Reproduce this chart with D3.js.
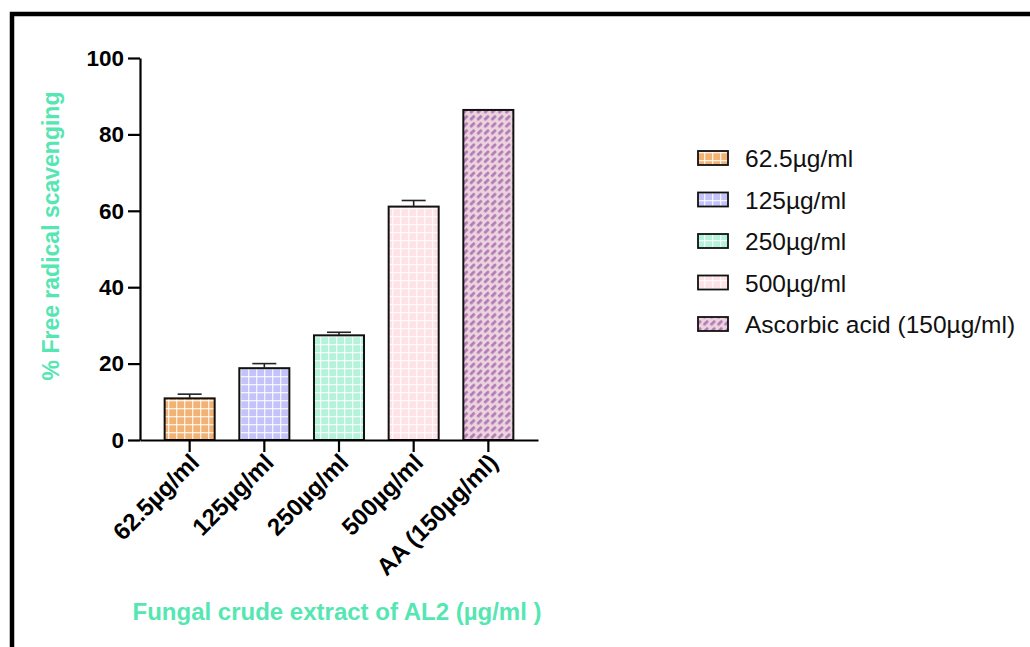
<!DOCTYPE html>
<html><head><meta charset="utf-8">
<script src="https://cdn.jsdelivr.net/npm/d3@7"></script>
<style>body{margin:0;background:#fff}svg{display:block}</style>
</head><body>
<script>
const categories = ["62.5µg/ml","125µg/ml","250µg/ml","500µg/ml","AA (150µg/ml)"];
const legendLabels = ["62.5µg/ml","125µg/ml","250µg/ml","500µg/ml","Ascorbic acid (150µg/ml)"];
const values = [10.9, 18.8, 27.4, 61.1, 86.4];
const errors = [1.1, 1.2, 0.8, 1.6, 0];
const yTicks = [0,20,40,60,80,100];
const fills = ["#F2B274","#C3C3FA","#B4F3DA","#FDE2E7","#EBD3DF"];

const W=1030,H=647;
const svg=d3.select("body").append("svg").attr("width",W).attr("height",H);
const defs=svg.append("defs");
const green="#55E6B2";
const font="'Liberation Sans', Arial, sans-serif";

fills.forEach((c,i)=>{
  const s = i<4 ? 8 : 10;
  const p=defs.append("pattern").attr("id","p"+i).attr("patternUnits","userSpaceOnUse")
    .attr("width",s).attr("height",s);
  p.append("rect").attr("width",s).attr("height",s).attr("fill",c);
  if(i<4){
    p.append("rect").attr("x",0).attr("y",0).attr("width",8).attr("height",1.3).attr("fill","#fff").attr("opacity",0.8);
    p.append("rect").attr("x",0).attr("y",0).attr("width",1.3).attr("height",8).attr("fill","#fff").attr("opacity",0.8);
  } else {
    p.attr("patternTransform","rotate(45)");
    [[1,1],[6,6],[6,-4]].forEach(([xx,yy])=>{
      p.append("rect").attr("x",xx).attr("y",yy).attr("width",2.8).attr("height",6.5).attr("rx",1.3).attr("fill","#B47CB4");
    });
  }
});

svg.append("rect").attr("x",12).attr("y",14).attr("width",1100).attr("height",800)
  .attr("fill","none").attr("stroke","#000").attr("stroke-width",4.5);

const x=d3.scaleBand().domain(categories).range([140,538]).paddingInner(0.33).paddingOuter(0.33);
const y=d3.scaleLinear().domain([0,100]).range([440,58]);

const g=svg.append("g");
g.selectAll("rect.bar").data(values).join("rect")
  .attr("x",(d,i)=>x(categories[i])).attr("y",d=>y(d))
  .attr("width",x.bandwidth()).attr("height",d=>y(0)-y(d))
  .attr("fill",(d,i)=>`url(#p${i})`).attr("stroke","#111").attr("stroke-width",2);

values.forEach((v,i)=>{
  if(!errors[i]) return;
  const cx=x(categories[i])+x.bandwidth()/2;
  g.append("line").attr("x1",cx).attr("x2",cx).attr("y1",y(v)).attr("y2",y(v+errors[i])).attr("stroke","#222").attr("stroke-width",1.6);
  g.append("line").attr("x1",cx-12).attr("x2",cx+12).attr("y1",y(v+errors[i])).attr("y2",y(v+errors[i])).attr("stroke","#222").attr("stroke-width",1.6);
});

const ya=svg.append("g").attr("transform","translate(140,0)")
  .call(d3.axisLeft(y).tickValues(yTicks).tickSize(12).tickPadding(4).tickSizeOuter(0));
ya.select(".domain").attr("stroke","#000").attr("stroke-width",2.2);
ya.selectAll(".tick line").attr("stroke","#000").attr("stroke-width",2.2);
ya.selectAll("text").attr("font-family",font).attr("font-weight","bold").attr("font-size",22.5).attr("fill","#000");

const xa=svg.append("g").attr("transform","translate(0,440)")
  .call(d3.axisBottom(x).tickSize(12).tickSizeOuter(0).tickPadding(0));
xa.select(".domain").attr("stroke","#000").attr("stroke-width",2.2);
xa.selectAll(".tick line").attr("stroke","#000").attr("stroke-width",2.2);
xa.selectAll("text").attr("font-family",font).attr("font-weight","bold").attr("font-size",24).attr("fill","#000")
  .attr("text-anchor","end").attr("dy",null).attr("y",0)
  .attr("transform","translate(11,24) rotate(-45)");

svg.append("text").attr("transform","translate(59,236) rotate(-90)").attr("text-anchor","middle")
  .attr("font-family",font).attr("font-weight","bold").attr("font-size",23).attr("fill",green)
  .text("% Free radical scavenging");
svg.append("text").attr("x",337).attr("y",620).attr("text-anchor","middle")
  .attr("font-family",font).attr("font-weight","bold").attr("font-size",24).attr("fill",green)
  .text("Fungal crude extract of AL2 (µg/ml )");

const leg=svg.append("g");
legendLabels.forEach((l,i)=>{
  const yy=151+i*41.5;
  leg.append("rect").attr("x",698).attr("y",yy).attr("width",30).attr("height",14)
    .attr("fill",`url(#p${i})`).attr("stroke","#111").attr("stroke-width",1.8);
  leg.append("text").attr("x",745).attr("y",yy+16).attr("font-family",font).attr("font-size",24.5).attr("fill","#111").text(l);
});
</script>
</body></html>
